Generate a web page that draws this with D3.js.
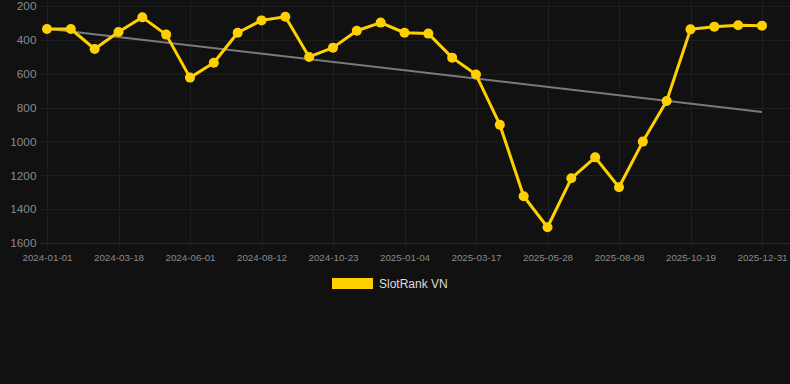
<!DOCTYPE html>
<html>
<head>
<meta charset="UTF-8">
<script src="https://d3js.org/d3.v7.min.js"></script>
<style>
  * { margin: 0; padding: 0; }
  body { background: #111111; width: 790px; height: 384px; overflow: hidden; font-family: "Liberation Sans", Arial, sans-serif; }
  svg { display: block; }
</style>
</head>
<body>
<svg id="chart" width="790" height="384"></svg>
<script>
// dates of each point (labelled ones read from the axis, others estimated between them)
const dates = [
  '2024-01-01', '2024-01-27', '2024-02-22', '2024-03-18', '2024-04-12', '2024-05-07',
  '2024-06-01', '2024-06-25', '2024-07-19', '2024-08-12', '2024-09-05', '2024-09-29',
  '2024-10-23', '2024-11-16', '2024-12-10', '2025-01-04', '2025-01-28', '2025-02-21',
  '2025-03-17', '2025-04-10', '2025-05-04', '2025-05-28', '2025-06-21', '2025-07-15',
  '2025-08-08', '2025-09-01', '2025-09-25', '2025-10-19', '2025-11-12', '2025-12-07',
  '2025-12-31'
];
const rankVN = [
  336, 336, 454, 354, 267, 369, 623, 535, 358, 285, 263, 501, 446, 346, 298,
  358, 363, 505, 605, 901, 1324, 1507, 1218, 1094, 1271, 1001, 761, 338, 322, 314, 316
];
const yTicks = [200, 400, 600, 800, 1000, 1200, 1400, 1600];
const xTickLabels = dates.filter((d, i) => i % 3 === 0);
const seriesName = 'SlotRank VN';

(function() {
  const svg = d3.select('#chart');
  const L = 47, R = 762, T = 6, B = 243;

  const x = d3.scalePoint().domain(dates).range([L, R]);
  const y = d3.scaleLinear().domain([200, 1600]).range([T, B]);

  // grid
  svg.append('g').selectAll('line').data(yTicks).join('line')
    .attr('x1', 40).attr('x2', 790)
    .attr('y1', d => Math.round(y(d)) + 0.5).attr('y2', d => Math.round(y(d)) + 0.5)
    .attr('stroke', d => d === 1600 ? '#2c2c2c' : '#1e1e1e').attr('stroke-width', 1);
  svg.append('g').selectAll('line').data(xTickLabels).join('line')
    .attr('x1', d => Math.round(x(d)) + 0.5).attr('x2', d => Math.round(x(d)) + 0.5)
    .attr('y1', 0).attr('y2', B + 6)
    .attr('stroke', '#1e1e1e').attr('stroke-width', 1);

  // axes
  const yAxis = svg.append('g').attr('transform', 'translate(36.5,0)')
    .call(d3.axisLeft(y).tickValues(yTicks).tickFormat(d3.format('d')).tickSize(0).tickPadding(0));
  yAxis.select('.domain').remove();
  yAxis.selectAll('text').attr('fill', '#8a8a8a').attr('font-size', 11.8)
    .attr('font-family', '"Liberation Sans", Arial, sans-serif');

  const xAxis = svg.append('g').attr('transform', `translate(0,${B + 11.5})`)
    .call(d3.axisBottom(x).tickValues(xTickLabels).tickSize(0).tickPadding(0));
  xAxis.select('.domain').remove();
  xAxis.selectAll('text').attr('fill', '#8a8a8a').attr('font-size', 9.8)
    .attr('font-family', '"Liberation Sans", Arial, sans-serif');

  // linear trend (least squares over point index)
  const n = rankVN.length;
  const idx = d3.range(n);
  const mx = d3.mean(idx), my = d3.mean(rankVN);
  const slope = d3.sum(idx, i => (i - mx) * (rankVN[i] - my)) / d3.sum(idx, i => (i - mx) ** 2);
  const icpt = my - slope * mx;
  svg.append('line')
    .attr('x1', x(dates[0])).attr('y1', y(icpt))
    .attr('x2', x(dates[n - 1])).attr('y2', y(icpt + slope * (n - 1)))
    .attr('stroke', '#7a7a7a').attr('stroke-width', 2);

  // series line + points
  const line = d3.line().x((d, i) => x(dates[i])).y(d => y(d));
  svg.append('path').datum(rankVN)
    .attr('d', line).attr('fill', 'none')
    .attr('stroke', '#ffd000').attr('stroke-width', 3).attr('stroke-linejoin', 'round');
  svg.append('g').selectAll('circle').data(rankVN).join('circle')
    .attr('cx', (d, i) => x(dates[i])).attr('cy', d => y(d))
    .attr('r', 5).attr('fill', '#ffd000');

  // legend
  const lg = svg.append('g').attr('transform', 'translate(332,278)');
  lg.append('rect').attr('width', 41).attr('height', 11).attr('fill', '#ffd000');
  lg.append('text').attr('x', 47).attr('y', 10)
    .attr('fill', '#dddddd').attr('font-size', 12)
    .text(seriesName);
})();
</script>
</body>
</html>
